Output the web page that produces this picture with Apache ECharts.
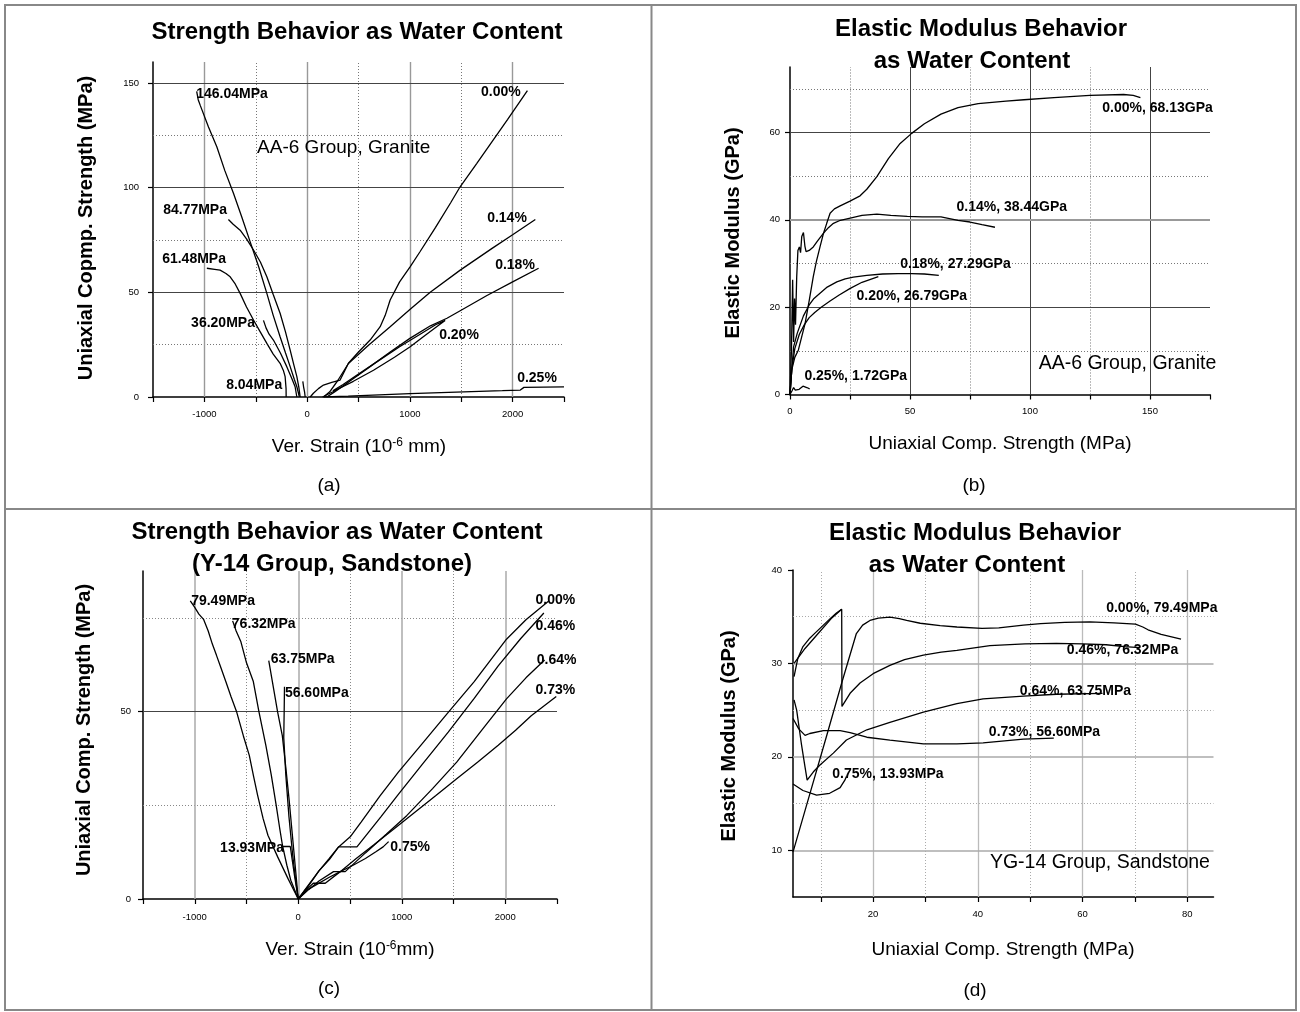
<!DOCTYPE html>
<html><head><meta charset="utf-8">
<script src="https://cdn.jsdelivr.net/npm/echarts@6/dist/echarts.min.js"></script>
<style>html,body{margin:0;padding:0;background:#fff}#c{width:1300px;height:1012px}</style>
</head><body><div id="c"></div>
<script>
// ---------- Panel (a): strain (10^-6) vs strength (MPa), AA-6 granite ----------
const aLat146 = [[-1075,146],[-1060,142],[-1041,139.4],[-960,129],[-879,119.5],[-800,108],[-717,97.3],[-636,86],[-555,74.2],[-470,62],[-392,49.5],[-330,39],[-263,28.8],[-210,21],[-165,14.5],[-125,8.5],[-100,4.9],[-75,0]];
const aLat84 = [[-766,84.8],[-720,82.5],[-652,79.7],[-590,75.5],[-522,70.2],[-455,64.5],[-392,57.4],[-330,49],[-263,40],[-210,31],[-165,22.4],[-130,15.5],[-100,9.7],[-80,4.5],[-68,0]];
const aLat61 = [[-976,61.5],[-900,61],[-847,60.6],[-790,59],[-749,57.4],[-700,54],[-652,49.5],[-590,43],[-522,36.8],[-455,31],[-392,25.6],[-330,20.5],[-263,16.1],[-230,12.5],[-214,9.7],[-205,4],[-204,0]];
const aLat36 = [[-425,36.6],[-400,33],[-370,30],[-328,27.2],[-260,21],[-198,14.5],[-150,9],[-117,4.9],[-100,0]];
const aLat8 = [[-42,7.5],[-35,5],[-25,2.5],[-19,0]];
const aAx000 = [[30,0],[61,1.8],[110,4],[159,5.7],[240,7],[321,8.1],[360,12],[402,16.1],[500,21.5],[613,27.2],[711,33.6],[760,39],[808,46.3],[900,55],[1002,62.2],[1100,69.5],[1250,81],[1400,93],[1489,100.4],[1650,111.5],[1800,122],[1950,132.5],[2144,146.3]];
const aAx014 = [[160,0],[220,2.5],[300,8],[402,16],[600,24.8],[808,33.5],[1000,41.8],[1198,50],[1490,60.6],[1800,71],[2000,77.5],[2221,84.8]];
const aAx018 = [[192,0],[260,2.2],[400,7],[613,14.5],[808,21.5],[1000,28],[1200,34],[1361,37.6],[1490,41.2],[1750,48.5],[2000,55],[2253,61.5]];
const aAx020 = [[150,0],[250,2.5],[321,4.3],[450,7.5],[646,12.8],[850,19],[1003,24],[1150,29.5],[1280,34.3],[1343,36.6],[1250,34.5],[1100,30],[900,24],[700,17.5],[500,11],[350,6],[250,3]];
const aAx025 = [[160,0],[400,0.4],[700,1.0],[1000,1.6],[1300,2.1],[1600,2.6],[1900,3.0],[2075,3.3],[2110,4.6],[2500,4.8]];
const aXLabels = [-1000,0,1000,2000];
const aXTicks = [-1500,-1000,-500,0,500,1000,1500,2000,2500];
const aYLabels = [0,50,100,150];
const aVMajor = [-1000,0,1000,2000], aVMinor = [-500,500,1500];
const aHMajor = [50,100,150], aHMinor = [25,75,125];
const aNotes = [['146.04MPa',-1080,144.7],['84.77MPa',-1401,89.3],['61.48MPa',-1411,65.9],['36.20MPa',-1129,35.3],['8.04MPa',-788,5.7],['0.00%',1693,145.7],['0.14%',1752,85.5],['0.18%',1830,63],['0.20%',1285,29.6],['0.25%',2044,9.1]];
const aGroup = [['AA-6 Group, Granite',-487,118.9]];

// ---------- Panel (b): strength (MPa) vs elastic modulus (GPa), AA-6 granite ----------
const bM000 = [[0,0],[0.7,5.6],[2,8.5],[3.5,10.2],[5,13.5],[6.3,16.3],[8,21.5],[9.7,27],[11,30.5],[12.5,33.8],[14,37],[15.3,39.2],[16.7,41.5],[18.5,42.5],[20.9,43.2],[25,44.3],[29.2,45.5],[32,47],[36.2,49.9],[41,54],[45.9,57.5],[50.7,59.8],[56,62],[62.9,64.2],[70,65.7],[78.4,66.6],[90,67.2],[97.5,67.5],[110,68],[125,68.5],[139,68.7],[143,68.5],[146,68.0]];
const bM014 = [[0,0],[0.6,10],[1.1,26.3],[1.5,12],[1.9,22],[2.3,16],[2.8,27],[3.3,33],[3.9,33.8],[4.4,32.5],[4.9,36.2],[5.6,37.1],[6.2,34],[6.7,32.7],[8,33],[9.7,33.8],[11.5,35.2],[13.9,36.9],[16,38.2],[18.1,39.2],[21,39.9],[25.1,40.4],[30,41],[36.2,41.3],[42,41],[48.9,40.8],[55,40.7],[62.9,40.7],[70,39.9],[75,39.5],[80,38.9],[85.4,38.3]];
const bM018 = [[0,0],[0.8,6],[1.5,10.9],[3,14],[5.6,18],[8,20.5],[10,22],[12.5,23.2],[15.5,24.6],[19.5,25.8],[23,26.5],[26.4,26.9],[32,27.3],[38.6,27.6],[45,27.7],[50.7,27.7],[56,27.6],[62,27.3]];
const bM020 = [[0,0],[0.8,6],[2,10.5],[3.9,13.8],[6,16],[8,17.6],[10.3,18.8],[13,20],[16.7,21.4],[20.5,22.8],[25.1,24.3],[30,25.7],[36.8,27.0]];
const bM025 = [[0,0],[0.8,0.8],[1.5,1.6],[2.2,1.0],[3,1.4],[3.8,1.2],[4.6,1.6],[5.4,1.9],[6.2,1.5],[7,1.6],[8.2,1.3]];
const bXLabels = [0,50,100,150];
const bXTicks = [0,25,50,75,100,125,150,175];
const bYLabels = [0,20,40,60];
const bVMajor = [50,100,150], bVMinor = [25,75,125];
const bHMajor = [20,40,60], bHMinor = [10,30,50,70];
const bNotes = [['0.00%, 68.13GPa',130.1,65.5],['0.14%, 38.44GPa',69.4,42.9],['0.18%, 27.29GPa',45.9,29.9],['0.20%, 26.79GPa',27.7,22.6],['0.25%, 1.72GPa',6.0,4.2]];
const bGroup = [['AA-6 Group, Granite',103.6,7.1]];

// ---------- Panel (c): strain vs strength, Y-14 sandstone ----------
const cLat79 = [[-1043,79.5],[-1000,77.8],[-960,76],[-915,74.6],[-870,71.5],[-830,68],[-790,65],[-754,62.2],[-700,58],[-650,54],[-594,49.8],[-530,43.5],[-473,38.3],[-430,32.5],[-393,27.7],[-340,21.5],[-293,17],[-200,11.3],[-100,5.5],[0,0]];
const cLat76 = [[-634,74.2],[-600,71.5],[-554,68.6],[-500,63],[-434,58],[-380,50],[-313,41],[-260,33],[-213,25],[-180,19],[-153,14.4],[-110,9],[-72,5],[0,0]];
const cLat63 = [[-285,63.6],[-250,58],[-200,50],[-154,43.6],[-120,35],[-90,27],[-60,18],[-30,9],[0,0]];
const cLat56 = [[-133,56.6],[-136,50],[-140,43],[-120,33],[-90,22],[-55,12],[-25,5],[0,0]];
const cLat13 = [[0,0],[-35,6],[-77,14],[-165,14]];
const cAx000 = [[0,0],[80,3],[200,7.5],[300,10.5],[390,13.9],[502,16.6],[609,20.6],[790,27.5],[969,33.9],[1200,41.5],[1449,49.8],[1700,58],[2012,69.3],[2200,74.5],[2420,79.5]];
const cAx046 = [[0,0],[90,3.2],[200,7.5],[300,10.8],[390,13.9],[567,13.9],[800,22],[969,28],[1200,36],[1449,44.5],[1700,53.5],[1932,62.2],[2150,69.5],[2373,76.3]];
const cAx064 = [[0,0],[100,2.5],[200,4.8],[341,7.3],[454,7.3],[649,12.3],[850,17.3],[1050,22.3],[1300,29.5],[1531,36.5],[1800,46],[2012,53.4],[2200,59],[2380,63.75]];
const cAx073 = [[0,0],[80,2.5],[145,4.2],[261,4.2],[406,7.3],[560,10.8],[728,14.4],[930,18.8],[1130,23.2],[1330,27.6],[1531,32.1],[1732,36.5],[1932,41],[2100,45],[2251,48.9],[2493,54]];
const cAx075 = [[0,0],[90,2.5],[168,3.7],[300,5.8],[406,7.3],[530,9],[649,10.8],[750,12.6],[820,13.9],[873,15.3]];
const cXLabels = [-1000,0,1000,2000];
const cXTicks = [-1500,-1000,-500,0,500,1000,1500,2000,2500];
const cYLabels = [0,50];
const cVMajor = [-1000,0,1000,2000], cVMinor = [-500,500,1500];
const cHMajor = [50], cHMinor = [25,75];
const cNotes = [['79.49MPa',-1035,79.5],['76.32MPa',-642,73.2],['63.75MPa',-266,63.9],['56.60MPa',-129,55],['13.93MPa',-755,13.5],['0.00%',2293,79.7],['0.46%',2293,72.9],['0.64%',2304,63.7],['0.73%',2293,55.7],['0.75%',889,13.9]];

// ---------- Panel (d): strength vs elastic modulus, YG-14 sandstone ----------
const dM000 = [[4.7,9.8],[8,16.2],[11.1,22.2],[14,27.9],[16.8,33.2],[18,34.1],[19.4,34.6],[21,34.85],[23.2,34.95],[25,34.8],[26.4,34.6],[29,34.3],[32.8,34.05],[36,33.9],[40.8,33.75],[44,33.8],[48.7,34.1],[52,34.25],[56.6,34.4],[61.4,34.45],[66,34.35],[70.1,34.2],[71.5,33.9],[72.5,33.6],[75,33.1],[78.8,32.6]];
const dM046a = [[4.9,30.0],[7,31.6],[9.5,33.2],[12,34.8],[14,35.8]];
const dM046 = [[4.9,28.6],[5.6,30.5],[6.6,31.8],[7.9,32.7],[9,33.3],[10.5,34.1],[12,34.9],[13,35.4],[14,35.8],[14.05,25.4],[15.6,26.8],[17.5,27.9],[20,28.9],[23.2,29.8],[26,30.4],[29.6,30.9],[33,31.2],[36,31.4],[42.3,31.9],[49,32.1],[55,32.15],[60,32.1],[64.5,32.0],[68,31.8],[70.9,31.7]];
const dM064 = [[4.9,26.1],[5.4,25],[6.3,21.4],[7,18.9],[7.4,17.5],[8.6,18.4],[9.8,19.1],[12.4,20.4],[14.9,21.8],[18.8,22.9],[23.2,23.7],[29.6,24.8],[36,25.7],[41,26.2],[48.7,26.5],[55,26.7],[63.8,26.8]];
const dM073 = [[4.7,24.1],[5.8,23.0],[7,22.3],[7.9,22.5],[10.5,22.8],[13.7,22.8],[15.6,22.6],[18.8,22.1],[23.2,21.8],[29.6,21.4],[36,21.4],[41,21.5],[48.7,21.9],[54.5,22.0]];
const dM075 = [[4.7,17.1],[6.6,16.4],[9.2,15.9],[11.7,16.1],[13.7,16.7],[14.6,17.5],[14.9,17.9]];
const dXLabels = [20,40,60,80];
const dXTicks = [10,20,30,40,50,60,70,80];
const dYLabels = [10,20,30,40];
const dVMajor = [20,40,60,80], dVMinor = [10,30,50,70];
const dHMajor = [10,20,30], dHMinor = [15,25,35];
const dNotes = [['0.00%, 79.49MPa',64.5,35.9],['0.46%, 76.32MPa',57.0,31.4],['0.64%, 63.75MPa',48.0,27.0],['0.73%, 56.60MPa',42.1,22.6],['0.75%, 13.93MPa',12.2,18.1]];
const dGroup = [['YG-14 Group, Sandstone',42.3,8.7]];

// ---------- build ----------
const FONT = '"Liberation Sans", Arial, Helvetica, sans-serif';
const chart = echarts.init(document.getElementById('c'), null, {renderer:'canvas'});

function xAxis(gi, min, max, labels, ticks, margin){
  return {type:'value', gridIndex:gi, min, max, position:'bottom',
    axisLine:{show:true, onZero:false, lineStyle:{color:'#000', width:1.5}},
    axisTick:{show:true, customValues:ticks, length:5, inside:false, lineStyle:{color:'#000', width:1.2}},
    axisLabel:{show:true, customValues:labels, margin, fontSize:9.5, fontFamily:FONT, color:'#000', formatter:v=>String(v)},
    splitLine:{show:false}};
}
function yAxis(gi, min, max, labels, ticks, margin){
  return {type:'value', gridIndex:gi, min, max, position:'left',
    axisLine:{show:true, onZero:false, lineStyle:{color:'#000', width:1.5}},
    axisTick:{show:true, customValues:ticks, length:5, inside:false, lineStyle:{color:'#000', width:1.2}},
    axisLabel:{show:true, customValues:labels, margin, fontSize:9.5, fontFamily:FONT, color:'#000', formatter:v=>String(v)},
    splitLine:{show:false}};
}
function gridLines(gi, vMaj, vMin, hMaj, hMin, st){
  const data = [];
  vMin.forEach(v=>data.push({xAxis:v, lineStyle:{color:st.minor, type:[1,2], width:1}}));
  hMin.forEach(v=>data.push({yAxis:v, lineStyle:{color:st.minor, type:[1,2], width:1}}));
  vMaj.forEach(v=>data.push({xAxis:v, lineStyle:{color:st.vMajor, type:'solid', width:st.vw||1}}));
  hMaj.forEach(v=>data.push({yAxis:v, lineStyle:{color:(st.hColor&&st.hColor[v])||st.hMajor, type:'solid', width:(st.hWidth&&st.hWidth[v])||st.hw||1}}));
  return {type:'line', xAxisIndex:gi, yAxisIndex:gi, data:[], silent:true, z:1,
    markLine:{silent:true, symbol:['none','none'], label:{show:false}, animation:false, z:1, emphasis:{disabled:true}, data}};
}
function curve(gi, data){
  return {type:'line', xAxisIndex:gi, yAxisIndex:gi, data, showSymbol:false, symbol:'none', silent:true,
    lineStyle:{color:'#000', width:1.3}, z:10, animation:false, clip:true};
}
function notes(gi, arr, size, weight){
  return {type:'scatter', xAxisIndex:gi, yAxisIndex:gi, symbolSize:0, silent:true, z:20, animation:false,
    itemStyle:{opacity:1},
    data: arr.map(a=>({name:a[0], value:[a[1],a[2]]})),
    label:{show:true, position:'right', distance:0, formatter:'{b}', color:'#000', opacity:1, fontFamily:FONT, fontSize:size, fontWeight:weight}};
}
function txt(text, x, y, size, weight, rot, rich){
  const el = {type:'text', x, y, rotation:rot||0, z:50, silent:true,
    style:{text, font:(weight?'bold ':'')+size+'px '+FONT, fill:'#000',
      align:'center', verticalAlign:'middle', textAlign:'center', textVerticalAlign:'middle'}};
  if(rich) el.style.rich = rich;
  return el;
}
const supRich = {sup:{fontSize:12, fontFamily:FONT, verticalAlign:'top', padding:[0,0,9,0]}};

const option = {
  backgroundColor:'#fff',
  animation:false,
  grid:[
    {left:153, top:62, width:411, height:335},
    {left:790, top:67, width:420, height:327.5},
    {left:143, top:571, width:414, height:328},
    {left:793, top:570, width:420.5, height:327}
  ],
  xAxis:[
    xAxis(0,-1500,2500,aXLabels,aXTicks,12),
    xAxis(1,0,175,bXLabels,bXTicks,12),
    xAxis(2,-1500,2500,cXLabels,cXTicks,13),
    xAxis(3,4.7,85,dXLabels,dXTicks,12)
  ],
  yAxis:[
    yAxis(0,0,160,aYLabels,aYLabels,14),
    yAxis(1,0,75,bYLabels,bYLabels,10),
    yAxis(2,0,87.5,cYLabels,cYLabels,12),
    yAxis(3,5,40,dYLabels,dYLabels,11)
  ],
  series:[
    gridLines(0,aVMajor,aVMinor,aHMajor,aHMinor,{minor:'#777', vMajor:'#999', hMajor:'#444', vw:1.4}),
    gridLines(1,bVMajor,bVMinor,bHMajor,bHMinor,{minor:'#777', vMajor:'#444', hMajor:'#444', hColor:{40:'#999'}, hWidth:{40:1.8}}),
    gridLines(2,cVMajor,cVMinor,cHMajor,cHMinor,{minor:'#888', vMajor:'#aaa', hMajor:'#444', vw:1.5}),
    gridLines(3,dVMajor,dVMinor,dHMajor,dHMinor,{minor:'#aaa', vMajor:'#bbb', hMajor:'#aaa', vw:1.3, hw:1.5}),
    ...[aLat146,aLat84,aLat61,aLat36,aLat8,aAx000,aAx014,aAx018,aAx020,aAx025].map(d=>curve(0,d)),
    ...[bM000,bM014,bM018,bM020,bM025].map(d=>curve(1,d)),
    ...[cLat79,cLat76,cLat63,cLat56,cLat13,cAx000,cAx046,cAx064,cAx073,cAx075].map(d=>curve(2,d)),
    ...[dM000,dM046a,dM046,dM064,dM073,dM075].map(d=>curve(3,d)),
    notes(0,aNotes,14,'bold'), notes(0,aGroup,19,'normal'),
    notes(1,bNotes,14,'bold'), notes(1,bGroup,19.5,'normal'),
    notes(2,cNotes,14,'bold'),
    notes(3,dNotes,14,'bold'), notes(3,dGroup,19.5,'normal')
  ],
  graphic:[
    {type:'rect', shape:{x:5,y:5,width:1291,height:1005}, style:{fill:'none', stroke:'#888', lineWidth:2}, silent:true, z:60},
    {type:'line', shape:{x1:651.5,y1:5,x2:651.5,y2:1010}, style:{stroke:'#888', lineWidth:2}, silent:true, z:60},
    {type:'line', shape:{x1:5,y1:509,x2:1296,y2:509}, style:{stroke:'#888', lineWidth:2}, silent:true, z:60},
    txt('Strength Behavior as Water Content',357,32,24,true),
    txt('Elastic Modulus Behavior',981,29,24,true),
    txt('as Water Content',972,61,24,true),
    txt('Strength Behavior as Water Content',337,532,24,true),
    txt('(Y-14 Group, Sandstone)',332,564,24,true),
    txt('Elastic Modulus Behavior',975,533,24,true),
    txt('as Water Content',967,565,24,true),
    txt('Uniaxial Copmp. Strength (MPa)',86,228,20,true,Math.PI/2),
    txt('Elastic Modulus (GPa)',733,233,20,true,Math.PI/2),
    txt('Uniaxial Comp. Strength (MPa)',84,730,20,true,Math.PI/2),
    txt('Elastic Modulus (GPa)',729,736,20,true,Math.PI/2),
    txt('Ver. Strain (10{sup|-6} mm)',359,447,19,false,0,supRich),
    txt('Uniaxial Comp. Strength (MPa)',1000,444,19,false),
    txt('Ver. Strain (10{sup|-6}mm)',350,950,19,false,0,supRich),
    txt('Uniaxial Comp. Strength (MPa)',1003,950,19,false),
    txt('(a)',329,486,19,false),
    txt('(b)',974,486,19,false),
    txt('(c)',329,989,19,false),
    txt('(d)',975,991,19,false)
  ]
};
chart.setOption(option);
</script></body></html>
